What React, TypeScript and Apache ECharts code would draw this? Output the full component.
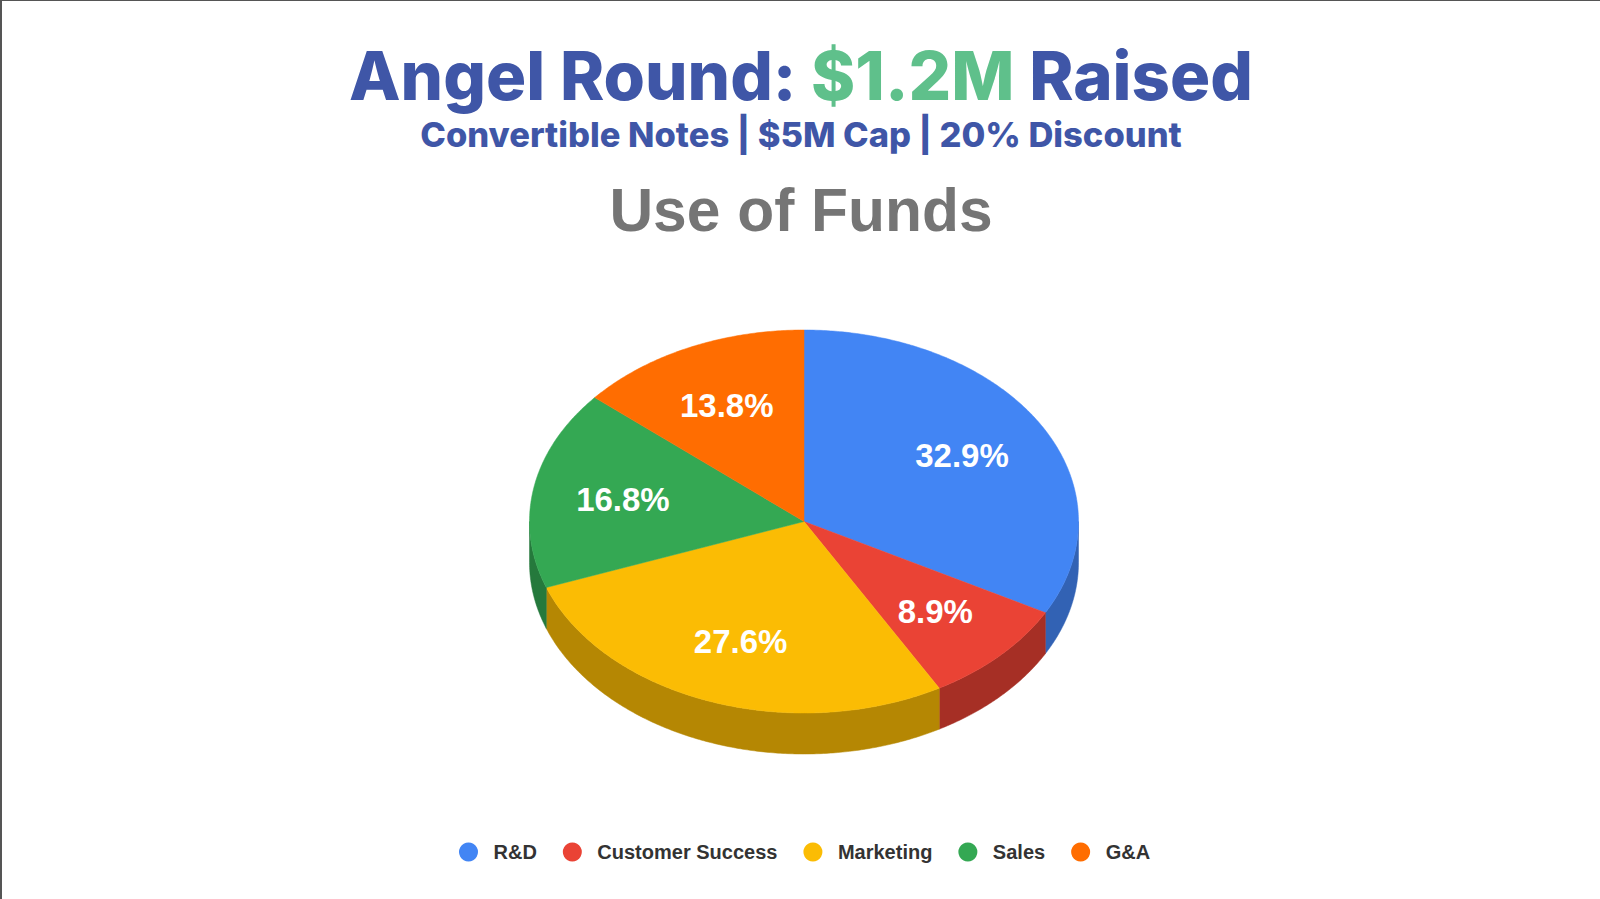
import { useRef, useEffect } from 'react'
import * as echarts from 'echarts'

const categories = ['R&D', 'Customer Success', 'Marketing', 'Sales', 'G&A']
const shares = [32.9, 8.9, 27.6, 16.8, 13.8]
const topColors = ['#4285f4', '#ea4335', '#fbbc04', '#34a853', '#ff6d01']
const sideColors = ['#3262b4', '#a62f25', '#b58703', '#25793c', '#b84e01']

// 3D pie geometry (chart coords)
const CX = 802
const CY = 520.5
const RX = 274.5
const RY = 191.5
const DEPTH = 41
const LABEL_R = 0.67

function App() {
  const chartRef = useRef<HTMLDivElement>(null);

  useEffect(() => {
    document.body.style.margin = '0';
    if (chartRef.current) {
      const myChart = echarts.init(chartRef.current, null, { renderer: 'svg' });
      const total = shares.reduce((a, b) => a + b, 0);

      const pt = (t: number, dy = 0) => [CX + RX * Math.sin(t), CY - RY * Math.cos(t) + dy];
      const arc = (s: number, e: number, dy: number) => {
        const n = Math.max(2, Math.ceil((e - s) / (Math.PI / 360)));
        const pts = [];
        for (let k = 0; k <= n; k++) pts.push(pt(s + (e - s) * k / n, dy));
        return pts;
      };

      const renderSlice = (params: any) => {
        const i = params.seriesIndex;
        let start = 0;
        for (let j = 0; j < i; j++) start += shares[j];
        const a0 = start / total * Math.PI * 2;
        const a1 = (start + shares[i]) / total * Math.PI * 2;
        const children: any[] = [];
        // visible side wall (front half of the ellipse)
        const s = Math.max(a0, Math.PI / 2);
        const e = Math.min(a1, Math.PI * 1.5);
        if (e > s) {
          children.push({
            type: 'polygon',
            shape: { points: [...arc(s, e, 0), ...arc(s, e, DEPTH).reverse()] },
            style: { fill: sideColors[i], stroke: sideColors[i], lineWidth: 0.5 }
          });
        }
        children.push({
          type: 'polygon',
          shape: { points: [[CX, CY], ...arc(a0, a1, 0)] },
          style: { fill: topColors[i], stroke: topColors[i], lineWidth: 0.5 }
        });
        const m = (a0 + a1) / 2;
        children.push({
          type: 'text',
          x: CX + RX * LABEL_R * Math.sin(m),
          y: CY - RY * LABEL_R * Math.cos(m),
          style: {
            text: (shares[i] / total * 100).toFixed(1) + '%',
            fill: '#ffffff',
            font: 'bold 33px "Liberation Sans", Arial, sans-serif',
            align: 'center',
            verticalAlign: 'middle'
          }
        });
        return { type: 'group', children };
      };

      const option = {
        animation: false,
        title: [{
          text: '{a|Angel Round: }{b|$1.2M}{a| Raised}',
          left: 'center',
          top: 41,
          padding: 0,
          textStyle: {
            rich: {
              a: { fontFamily: 'Inter', fontWeight: 800, fontSize: 67, lineHeight: 67, color: '#3f56a7' },
              b: { fontFamily: 'Inter', fontWeight: 800, fontSize: 67, lineHeight: 67, color: '#5fc08b' }
            }
          }
        }, {
          text: 'Convertible Notes | $5M Cap | 20% Discount',
          left: 'center',
          top: 116,
          padding: 0,
          textStyle: { fontFamily: 'Inter', fontWeight: 800, fontSize: 34.5, lineHeight: 35, color: '#3f56a7' }
        }, {
          text: 'Use of Funds',
          left: 'center',
          top: 179,
          padding: 0,
          textStyle: { fontFamily: '"Liberation Sans", Arial', fontWeight: 'bold', fontSize: 60.5, lineHeight: 60, color: '#757575' }
        }],
        legend: {
          data: categories,
          left: 452,
          top: 836,
          icon: 'circle',
          itemWidth: 40,
          itemHeight: 19,
          itemGap: 26,
          symbolKeepAspect: true,
          textStyle: { fontFamily: '"Liberation Sans", Arial', fontWeight: 'bold', fontSize: 20, color: '#333333' }
        },
        series: categories.map((name, i) => ({
          type: 'custom',
          name,
          coordinateSystem: 'none',
          silent: true,
          itemStyle: { color: topColors[i] },
          data: [{ name, value: shares[i] }],
          renderItem: renderSlice
        }))
      };
      myChart.setOption(option);

      const handleResize = () => {
        myChart.resize();
      };
      window.addEventListener('resize', handleResize);

      return () => {
        window.removeEventListener('resize', handleResize);
        myChart.dispose();
      };
    }
  }, []);

  return (
    <div style={{ width: '1600px', height: '899px', boxSizing: 'border-box', borderTop: '1px solid #555', borderLeft: '2px solid #555', background: '#fff' }}>
      <div ref={chartRef} style={{ width: '1598px', height: '898px' }}></div>
    </div>
  )
}

export default App
